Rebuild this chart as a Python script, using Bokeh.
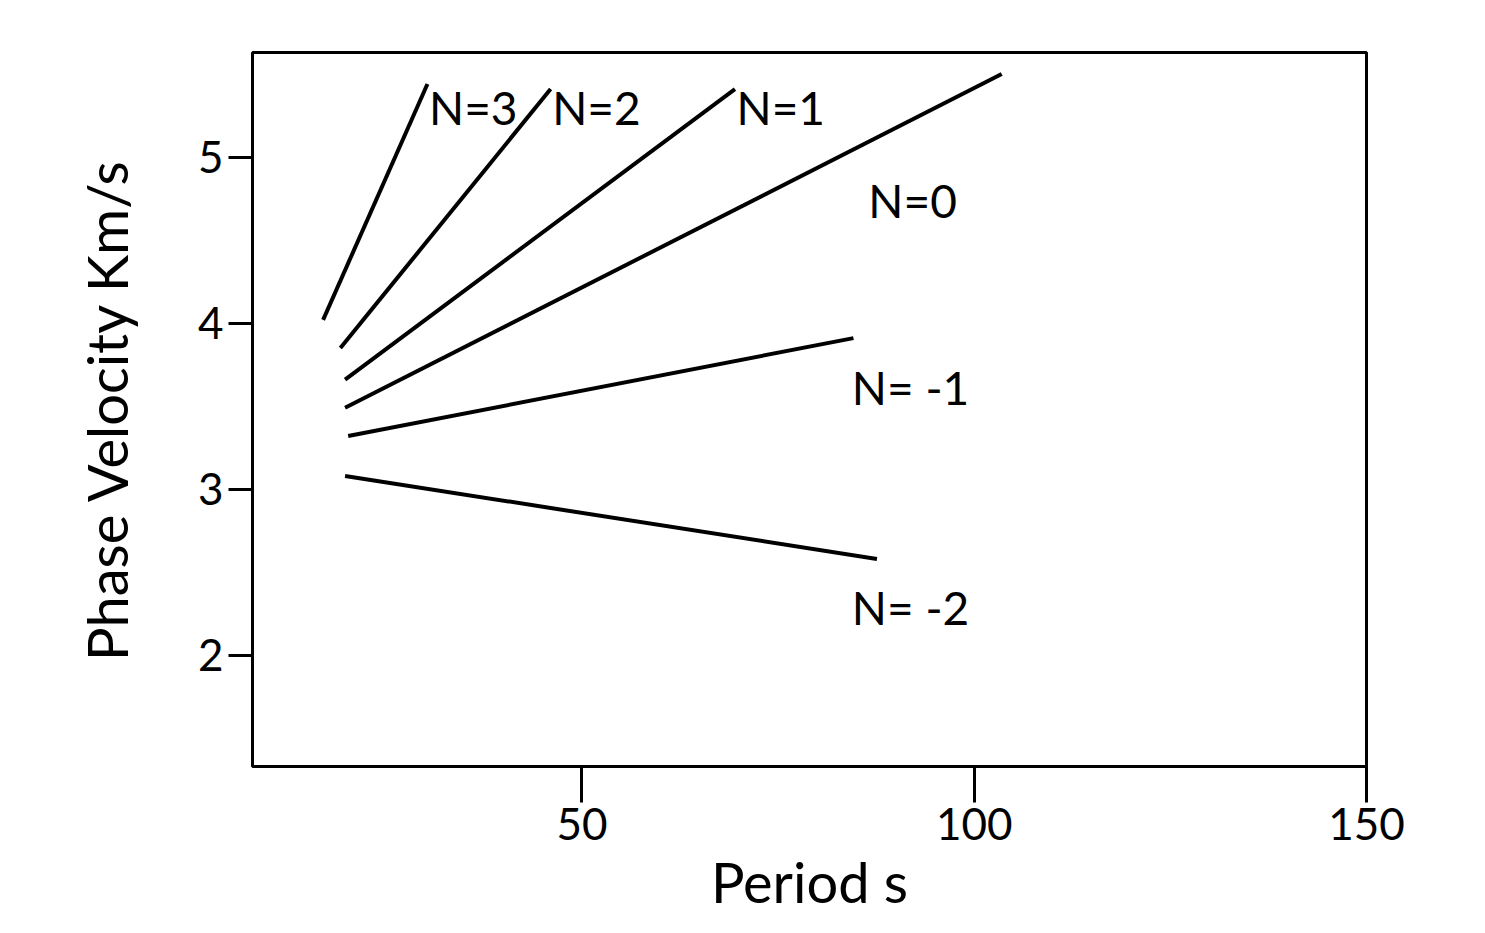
from bokeh.plotting import figure
from bokeh.models import Range1d, FixedTicker
from bokeh.core.properties import value
from bokeh.embed import file_html
from bokeh.resources import INLINE

# branch end points: period (s), phase velocity (km/s)
branches = ["N=3", "N=2", "N=1", "N=0", "N= -1", "N= -2"]
x_start = [17.0, 19.2, 19.8, 19.8, 20.2, 19.8]
y_start = [4.02, 3.85, 3.66, 3.49, 3.32, 3.08]
x_end = [30.3, 46.0, 69.5, 103.5, 84.6, 87.6]
y_end = [5.44, 5.41, 5.41, 5.50, 3.91, 2.58]
label_x = [30.5, 46.2, 69.7, 86.5, 84.4, 84.4]
label_y = [5.30, 5.30, 5.30, 4.74, 3.61, 2.29]

FONT = "Lato"

p = figure(width=1477, height=917, output_backend="svg", toolbar_location=None,
           x_range=Range1d(8, 150), y_range=Range1d(1.33, 5.63),
           min_border_left=252, min_border_top=52, min_border_right=111,
           min_border_bottom=149)
p.grid.visible = False
p.outline_line_color = "black"
p.outline_line_width = 3

for i in range(len(branches)):
    p.line([x_start[i], x_end[i]], [y_start[i], y_end[i]], line_color="black", line_width=4)

p.text(label_x, label_y, text=branches, text_font=value(FONT), text_font_size="46px",
       text_baseline="middle", text_align="left", text_color="black")

p.xaxis.ticker = FixedTicker(ticks=[50, 100, 150])
p.yaxis.ticker = FixedTicker(ticks=[2, 3, 4, 5])
for ax in (p.xaxis, p.yaxis):
    ax.axis_line_color = None
    ax.major_tick_line_width = 3
    ax.major_tick_line_color = "black"
    ax.minor_tick_line_color = None
    ax.major_label_text_font = FONT
    ax.major_label_text_font_size = "44px"
    ax.major_label_text_color = "black"
    ax.axis_label_text_font = FONT
    ax.axis_label_text_font_size = "56px"
    ax.axis_label_text_font_style = "normal"
    ax.axis_label_text_color = "black"
p.xaxis.major_tick_out = 36
p.xaxis.major_tick_in = 0
p.yaxis.major_tick_out = 24
p.yaxis.major_tick_in = 0
p.yaxis.axis_label_standoff = 55
p.xaxis.axis_label = "Period s"
p.yaxis.axis_label = "Phase Velocity Km/s"

open("out.html", "w").write(file_html(p, INLINE))
